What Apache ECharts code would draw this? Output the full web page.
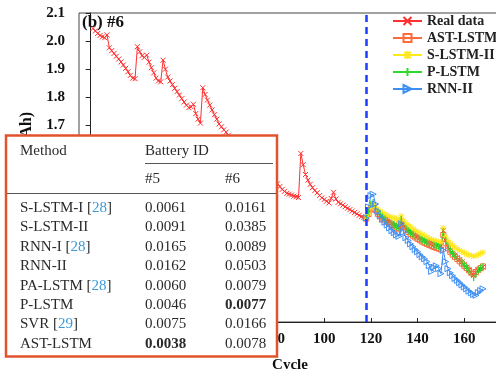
<!DOCTYPE html>
<html>
<head>
<meta charset="utf-8">
<script src="https://cdn.jsdelivr.net/npm/echarts@6/dist/echarts.min.js"></script>
<style>
  html, body { margin: 0; padding: 0; background: #fff; }
  #chart { width: 496px; height: 369px; }
</style>
</head>
<body>
<div id="chart"></div>
<script>
// measured capacity of battery #6, one value per cycle starting at cycle 1
const realStart = 1;
const realData = [
  2.045, 2.036, 2.027, 2.020, 2.015, 2.012, 2.022, 1.976, 1.966, 1.956,
  1.946, 1.936, 1.926, 1.915, 1.903, 1.891, 1.878, 1.868, 1.866, 1.980,
  1.962, 1.948, 1.942, 1.950, 1.925, 1.905, 1.887, 1.868, 1.858, 1.855,
  1.932, 1.900, 1.872, 1.858, 1.845, 1.832, 1.820, 1.808, 1.795, 1.783,
  1.772, 1.763, 1.766, 1.775, 1.742, 1.722, 1.708, 1.834, 1.810, 1.790,
  1.772, 1.755, 1.738, 1.722, 1.705, 1.695, 1.684, 1.676, 1.665, 1.655,
  1.646, 1.637, 1.628, 1.618, 1.610, 1.602, 1.594, 1.585, 1.578, 1.640,
  1.610, 1.590, 1.572, 1.558, 1.545, 1.533, 1.522, 1.512, 1.503, 1.492,
  1.482, 1.472, 1.465, 1.458, 1.455, 1.452, 1.448, 1.446, 1.443, 1.600,
  1.560, 1.525, 1.505, 1.490, 1.478, 1.468, 1.460, 1.450, 1.442, 1.436,
  1.430, 1.424, 1.440, 1.462, 1.438, 1.426, 1.421, 1.416, 1.410, 1.405,
  1.400, 1.395, 1.390, 1.385, 1.380, 1.375, 1.372, 1.370, 1.382, 1.400,
  1.410, 1.398, 1.388, 1.380, 1.374, 1.368, 1.362, 1.357, 1.352, 1.347,
  1.342, 1.338, 1.360, 1.345, 1.335, 1.328, 1.322, 1.316, 1.310, 1.305,
  1.300, 1.296, 1.292, 1.288, 1.284, 1.281, 1.278, 1.275, 1.272, 1.270,
  1.325, 1.290, 1.268, 1.255, 1.245, 1.238, 1.230, 1.222, 1.214, 1.205,
  1.195, 1.185, 1.175, 1.166, 1.175, 1.185, 1.190, 1.196
];

// predictions start at the dashed line
const predStart = 118;
const astLstm = [
  1.368, 1.385, 1.405, 1.415, 1.398, 1.385, 1.376, 1.368, 1.362, 1.356,
  1.350, 1.345, 1.340, 1.335, 1.330, 1.352, 1.338, 1.328, 1.320, 1.313,
  1.307, 1.301, 1.296, 1.291, 1.286, 1.282, 1.278, 1.274, 1.270, 1.267,
  1.264, 1.261, 1.258, 1.310, 1.280, 1.262, 1.250, 1.240, 1.232, 1.224,
  1.216, 1.208, 1.200, 1.192, 1.184, 1.176, 1.170, 1.178, 1.186, 1.192,
  1.198
];
const sLstmII = [
  1.370, 1.385, 1.405, 1.418, 1.408, 1.400, 1.394, 1.389, 1.384, 1.380,
  1.376, 1.373, 1.370, 1.366, 1.363, 1.378, 1.362, 1.352, 1.345, 1.338,
  1.332, 1.326, 1.321, 1.316, 1.311, 1.306, 1.302, 1.298, 1.294, 1.291,
  1.288, 1.285, 1.283, 1.335, 1.305, 1.290, 1.280, 1.272, 1.266, 1.260,
  1.255, 1.250, 1.246, 1.242, 1.239, 1.236, 1.234, 1.236, 1.240, 1.244,
  1.248
];
const pLstm = [
  1.370, 1.395, 1.420, 1.425, 1.405, 1.392, 1.382, 1.374, 1.367, 1.361,
  1.355, 1.350, 1.345, 1.340, 1.336, 1.365, 1.345, 1.333, 1.325, 1.318,
  1.312, 1.306, 1.301, 1.296, 1.292, 1.288, 1.284, 1.280, 1.277, 1.274,
  1.271, 1.268, 1.265, 1.320, 1.290, 1.268, 1.254, 1.244, 1.236, 1.228,
  1.220, 1.212, 1.203, 1.194, 1.184, 1.172, 1.158, 1.172, 1.185, 1.192,
  1.196
];
const rnnII = [
  1.370, 1.410, 1.450, 1.455, 1.420, 1.395, 1.378, 1.365, 1.355, 1.345,
  1.335, 1.325, 1.318, 1.310, 1.305, 1.350, 1.320, 1.300, 1.290, 1.278,
  1.268, 1.258, 1.250, 1.240, 1.232, 1.225, 1.215, 1.200, 1.180, 1.195,
  1.200, 1.190, 1.172, 1.255, 1.215, 1.190, 1.175, 1.165, 1.155, 1.148,
  1.140, 1.132, 1.125, 1.118, 1.110, 1.104, 1.098, 1.095, 1.105, 1.112,
  1.118
];

const xTicks = [0, 20, 40, 60, 80, 100, 120, 140, 160, 180];

// RMSE table
const methods = ['S-LSTM-I', 'S-LSTM-II', 'RNN-I', 'RNN-II', 'PA-LSTM', 'P-LSTM', 'SVR', 'AST-LSTM'];
const refs = ['28', '', '28', '', '28', '', '29', ''];
const rmse5 = [0.0061, 0.0091, 0.0165, 0.0162, 0.0060, 0.0046, 0.0075, 0.0038];
const rmse6 = [0.0161, 0.0385, 0.0089, 0.0503, 0.0079, 0.0077, 0.0166, 0.0078];

const SERIF = 'Liberation Serif';
const CROSS = 'path://M0,0L10,10M10,0L0,10';
const SQUARE = 'path://M0,0L10,0L10,10L0,10Z';
const STAR = 'path://M5,0L5,10M0,5L10,5M1,1L9,9M9,1L1,9';
const BAR = 'path://M5,0L5,10M0,5L0,5M10,5L10,5';
const TRI = 'path://M0,0L10,5L0,10Z';

function pairs(start, values) {
  return values.map((v, i) => [start + i, v]);
}

function lineSeries(name, start, values, color, symbol, size, bw) {
  return {
    name: name,
    type: 'line',
    data: pairs(start, values),
    symbol: symbol,
    symbolSize: size,
    showAllSymbol: true,
    animation: false,
    lineStyle: { color: color, width: 1 },
    itemStyle: { color: 'none', borderColor: color, borderWidth: bw || 1 },
    emphasis: { disabled: true }
  };
}

const chart = echarts.init(document.getElementById('chart'));

const realSeries = lineSeries('Real data', realStart, realData, '#ff3030', CROSS, 5);
realSeries.markLine = {
  silent: true,
  symbol: ['none', 'none'],
  label: { show: false },
  lineStyle: { color: '#1a3cff', type: [7, 5], width: 2.5 },
  data: [{ xAxis: predStart }]
};

// table drawing
const tableEls = [];
function tText(x, y, text, extra) {
  tableEls.push({
    type: 'text', x: x, y: y, z: 101,
    style: Object.assign({
      text: text, fill: '#2a2a2a', fontFamily: SERIF, fontSize: 15,
      verticalAlign: 'middle', align: 'left'
    }, extra || {})
  });
}
function tLine(x1, y1, x2, y2) {
  tableEls.push({
    type: 'line', z: 101,
    shape: { x1: x1, y1: y1, x2: x2, y2: y2 },
    style: { stroke: '#555', lineWidth: 1 }
  });
}
tableEls.push({
  type: 'rect', z: 100,
  shape: { x: 6, y: 135.5, width: 271, height: 221 },
  style: { fill: '#fff', stroke: '#e2532d', lineWidth: 2.5 }
});
tText(20, 151, 'Method');
tText(145, 151, 'Battery ID');
tLine(145, 163.5, 273, 163.5);
tText(145, 179.5, '#5');
tText(225, 179.5, '#6');
tLine(7, 193.5, 276, 193.5);
const best5 = Math.min.apply(null, rmse5);
const best6 = Math.min.apply(null, rmse6);
methods.forEach((m, i) => {
  const y = 208 + i * 19.4;
  const label = refs[i] ? m + ' [{r|' + refs[i] + '}]' : m;
  tText(20, y, label, { rich: { r: { fill: '#3a9ad9', fontFamily: SERIF, fontSize: 15 } } });
  tText(145, y, rmse5[i].toFixed(4), { fontWeight: rmse5[i] === best5 ? 'bold' : 'normal' });
  tText(225, y, rmse6[i].toFixed(4), { fontWeight: rmse6[i] === best6 ? 'bold' : 'normal' });
});

const option = {
  backgroundColor: '#fff',
  animation: false,
  grid: {
    left: 79, top: 13, right: -15, bottom: 47,
    outerBoundsMode: 'none',
    containLabel: false,
    show: true, borderColor: '#444', borderWidth: 1
  },
  legend: {
    orient: 'vertical',
    left: 392, top: 14, padding: 0,
    itemWidth: 29, itemHeight: 10, itemGap: 3,
    textStyle: { fontFamily: SERIF, fontWeight: 'bold', fontSize: 14, color: '#222' },
    data: ['Real data', 'AST-LSTM', 'S-LSTM-II', 'P-LSTM', 'RNN-II']
  },
  xAxis: {
    type: 'value',
    min: -5, max: 180,
    name: 'Cycle',
    nameLocation: 'middle',
    nameGap: 36,
    nameTextStyle: { fontFamily: SERIF, fontWeight: 'bold', fontSize: 15, color: '#111', padding: [0, 10, 0, 0] },
    axisLine: { lineStyle: { color: '#222', width: 1 } },
    axisTick: { inside: true, length: 4, customValues: xTicks, lineStyle: { color: '#222' } },
    axisLabel: { customValues: xTicks, fontFamily: SERIF, fontWeight: 'bold', fontSize: 15, color: '#111', margin: 10 },
    splitLine: { show: false }
  },
  yAxis: {
    type: 'value',
    min: 1.0, max: 2.1, interval: 0.1,
    axisLine: { show: true, lineStyle: { color: '#222', width: 1 } },
    axisTick: { show: true, length: 5, lineStyle: { color: '#222' } },
    axisLabel: {
      fontFamily: SERIF, fontWeight: 'bold', fontSize: 15, color: '#111', margin: 14,
      formatter: v => v.toFixed(1)
    },
    splitLine: { show: false }
  },
  graphic: [
    {
      type: 'text', x: 82, y: 23, z: 50,
      style: { text: '(b) #6', fontFamily: SERIF, fontWeight: 'bold', fontSize: 17, fill: '#111', verticalAlign: 'middle' }
    },
    {
      type: 'text', x: 27, y: 112, z: 50, rotation: Math.PI / 2,
      style: { text: 'Capacity (Ah)', fontFamily: SERIF, fontWeight: 'bold', fontSize: 16, fill: '#111', align: 'right', verticalAlign: 'middle' }
    }
  ].concat(tableEls),
  series: [
    realSeries,
    lineSeries('AST-LSTM', predStart, astLstm, '#ff6a3a', SQUARE, 5),
    lineSeries('S-LSTM-II', predStart, sLstmII, '#ffe81a', STAR, 6),
    lineSeries('P-LSTM', predStart, pLstm, '#2ed82e', BAR, [2, 7], 1.3),
    lineSeries('RNN-II', predStart, rnnII, '#3d8ff5', TRI, 6)
  ]
};

chart.setOption(option);
</script>
</body>
</html>
